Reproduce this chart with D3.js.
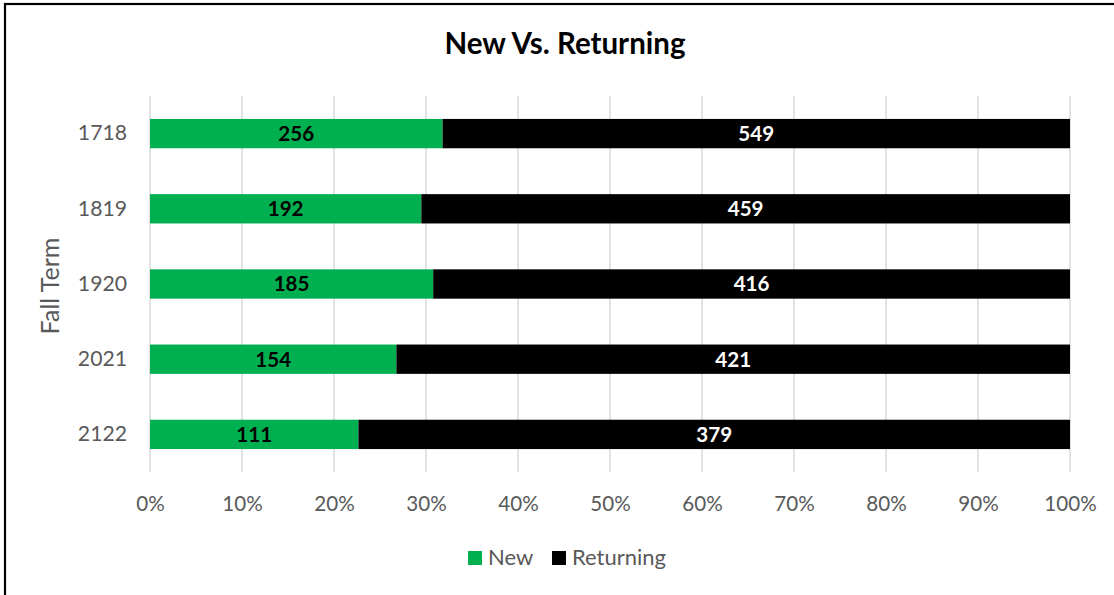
<!DOCTYPE html>
<html>
<head>
<meta charset="utf-8">
<script src="https://cdn.jsdelivr.net/npm/d3@7"></script>
<style>
  html, body { margin: 0; padding: 0; background: #fff; }
  svg { display: block; font-family: Lato, "Open Sans", sans-serif; }
</style>
</head>
<body>
<svg id="chart" width="1114" height="595"></svg>
<script>
// Fall term enrolment split: new vs. returning students
const terms = ["1718", "1819", "1920", "2021", "2122"];
const newStudents = [256, 192, 185, 154, 111];
const returningStudents = [549, 459, 416, 421, 379];
const seriesNames = ["New", "Returning"];
const seriesColors = ["#00B050", "#000000"];
const labelColors = ["#000000", "#FFFFFF"];
const xTicks = [0, 0.1, 0.2, 0.3, 0.4, 0.5, 0.6, 0.7, 0.8, 0.9, 1.0];

const svg = d3.select("#chart");
const W = 1114, H = 595;
const margin = { left: 150, right: 44, top: 96, bottom: 123 };
const FONT = "Lato, 'Open Sans', sans-serif";

// chart frame (top and left edges visible)
svg.append("rect")
  .attr("x", 5).attr("y", 4)
  .attr("width", W + 20).attr("height", H + 20)
  .attr("fill", "#fff")
  .attr("stroke", "#000").attr("stroke-width", 2.2);

const x = d3.scaleLinear().domain([0, 1]).range([margin.left, W - margin.right]);
const y = d3.scaleBand().domain(terms).range([margin.top, H - margin.bottom]).paddingInner(0.61).paddingOuter(0.305);

// title
svg.append("text")
  .attr("x", 565).attr("y", 54)
  .attr("text-anchor", "middle")
  .attr("font-weight", "bold")
  .attr("font-size", 29.5)
  .attr("fill", "#000")
  .text("New Vs. Returning");

// vertical gridlines
svg.append("g")
  .selectAll("line")
  .data(xTicks)
  .join("line")
  .attr("x1", d => x(d)).attr("x2", d => x(d))
  .attr("y1", margin.top).attr("y2", H - margin.bottom)
  .attr("stroke", "#d9d9d9").attr("stroke-width", 1.5);

// x axis tick labels
const xAxis = d3.axisBottom(x).tickValues(xTicks).tickFormat(d3.format(".0%")).tickSize(0).tickPadding(0);
const gx = svg.append("g")
  .attr("transform", `translate(0,${H - margin.bottom + 24})`)
  .call(xAxis);
gx.select(".domain").remove();
gx.selectAll("text").attr("font-size", 20.6).attr("fill", "#595959").attr("font-family", FONT);

// y axis labels
const yAxis = d3.axisLeft(y).tickSize(0).tickPadding(23);
const gy = svg.append("g")
  .attr("transform", `translate(${margin.left},0)`)
  .call(yAxis);
gy.select(".domain").remove();
gy.selectAll("text").attr("font-size", 21.2).attr("fill", "#595959").attr("font-family", FONT);

// y axis title
svg.append("text")
  .attr("transform", `translate(59,286) rotate(-90)`)
  .attr("text-anchor", "middle")
  .attr("font-size", 25)
  .attr("fill", "#595959")
  .text("Fall Term");

// stacked 100% bars
const rows = terms.map((t, i) => ({ term: t, New: newStudents[i], Returning: returningStudents[i] }));
const stack = d3.stack().keys(seriesNames).offset(d3.stackOffsetExpand);
const layers = stack(rows);

const layerG = svg.append("g")
  .selectAll("g")
  .data(layers)
  .join("g")
  .attr("fill", (d, i) => seriesColors[i]);

layerG.selectAll("rect")
  .data(d => d)
  .join("rect")
  .attr("x", d => x(d[0]))
  .attr("width", d => x(d[1]) - x(d[0]))
  .attr("y", d => y(d.data.term))
  .attr("height", y.bandwidth());

// value labels
layers.forEach((layer, li) => {
  svg.append("g")
    .selectAll("text")
    .data(layer)
    .join("text")
    .attr("x", d => (x(d[0]) + x(d[1])) / 2)
    .attr("y", d => y(d.data.term) + y.bandwidth() / 2)
    .attr("dy", "0.36em")
    .attr("text-anchor", "middle")
    .attr("font-weight", "bold")
    .attr("font-size", 20.6)
    .attr("fill", labelColors[li])
    .text(d => d.data[layer.key]);
});

// legend
const legend = svg.append("g");
const legendItems = [
  { name: "New", color: seriesColors[0], x: 468 },
  { name: "Returning", color: seriesColors[1], x: 552 }
];
legendItems.forEach(it => {
  legend.append("rect")
    .attr("x", it.x).attr("y", 551)
    .attr("width", 14).attr("height", 14)
    .attr("fill", it.color);
  legend.append("text")
    .attr("x", it.x + 20).attr("y", 557)
    .attr("dy", "0.36em")
    .attr("font-size", 22)
    .attr("fill", "#595959")
    .text(it.name);
});
</script>
</body>
</html>
